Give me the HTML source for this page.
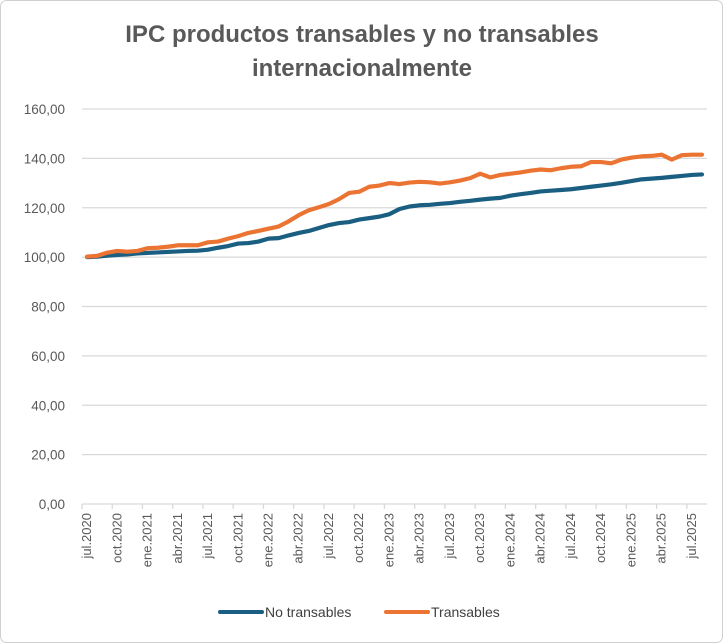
<!DOCTYPE html>
<html><head><meta charset="utf-8"><style>
body{margin:0;background:#fff;}
svg{display:block;font-family:"Liberation Sans",sans-serif;}
</style></head><body>
<svg id="chart" width="724" height="644" viewBox="0 0 724 644">
<rect x="0.5" y="0.5" width="722" height="642" rx="6" fill="#fff" stroke="#d0d0d0"/>
<text x="362" y="42" text-anchor="middle" font-size="24" font-weight="bold" fill="#595959">IPC productos transables y no transables</text>
<text x="362" y="76" text-anchor="middle" font-size="24" font-weight="bold" fill="#595959">internacionalmente</text>
<g id="grid"></g><g id="yl"></g><g id="xl"></g><g id="series"></g>
<line x1="220" y1="612" x2="262" y2="612" stroke="#1a5e82" stroke-width="4" stroke-linecap="round"/>
<text x="265" y="617" font-size="14" fill="#404040">No transables</text>
<line x1="386" y1="612" x2="428" y2="612" stroke="#ec7433" stroke-width="4" stroke-linecap="round"/>
<text x="431" y="617" font-size="14" fill="#404040">Transables</text>
</svg>
<script>
const months=["jul","ago","sep","oct","nov","dic","ene","feb","mar","abr","may","jun"];
const yTicks=[0,20,40,60,80,100,120,140,160];
const noTransables=[100,100.2,100.6,100.9,101.1,101.5,101.7,101.9,102.1,102.3,102.5,102.6,103,103.8,104.5,105.5,105.7,106.3,107.5,107.7,108.8,109.8,110.6,111.8,113,113.8,114.2,115.2,115.8,116.4,117.4,119.5,120.5,121,121.2,121.6,121.9,122.4,122.8,123.3,123.7,124,124.9,125.5,126,126.6,126.9,127.2,127.5,128,128.5,129,129.5,130.1,130.8,131.5,131.8,132.1,132.5,132.9,133.3,133.5];
const transables=[100.2,100.5,101.8,102.5,102.2,102.5,103.6,103.8,104.2,104.8,104.8,104.8,106,106.3,107.5,108.5,109.8,110.6,111.5,112.4,114.5,117,119,120.2,121.5,123.5,126,126.5,128.5,129,130,129.6,130.2,130.5,130.3,129.8,130.3,131,132,133.8,132.3,133.3,133.8,134.3,135,135.5,135.2,136,136.6,136.8,138.5,138.5,138,139.5,140.3,140.8,141,141.5,139.5,141.3,141.5,141.5];
const categories=noTransables.map((_,i)=>{const m=i%12;const y=2020+Math.floor((i+6)/12);return months[m]+"."+y;});
const X0=82,X1=707,Y0=504,Y1=109,n=categories.length,step=(X1-X0)/n;
const xs=i=>X0+(i+0.5)*step, ys=v=>Y0-(v/160)*(Y0-Y1);
const NS="http://www.w3.org/2000/svg";
function mk(t,p,a){const e=document.createElementNS(NS,t);for(const k in a)e.setAttribute(k,a[k]);document.getElementById(p).appendChild(e);return e;}
yTicks.forEach(v=>{
 const l=mk("line","grid",{x1:X0,x2:X1,y1:ys(v),y2:ys(v),stroke:"#d9d9d9","stroke-width":1.3});
 
 
 const t=mk("text","yl",{x:65,y:ys(v)+5,"text-anchor":"end","font-size":13.5,fill:"#595959"});
 t.textContent=v.toFixed(2).replace(".",",");
 
 
});
for(let i=0;i<=n;i+=3){
 const tk=mk("line","grid",{x1:X0+i*step,x2:X0+i*step,y1:Y0,y2:Y0+5,stroke:"#d9d9d9","stroke-width":1.3});
 
 
}
categories.forEach((c,i)=>{
 if(i%3)return;
 const x=xs(i)+4,y=513;
 const t=mk("text","xl",{x:x,y:y,"text-anchor":"end","font-size":13,fill:"#595959",transform:`rotate(-90 ${x} ${y})`});
 t.textContent=c;
 
 
});
[[noTransables,"#1a5e82","series-no-transables"],[transables,"#ec7433","series-transables"]].forEach(([d,c,nm])=>{
 const p=mk("polyline","series",{points:d.map((v,i)=>xs(i)+","+ys(v)).join(" "),fill:"none",stroke:c,"stroke-width":4.2,"stroke-linejoin":"round","stroke-linecap":"round"});
 
 
});
</script>
</body></html>
